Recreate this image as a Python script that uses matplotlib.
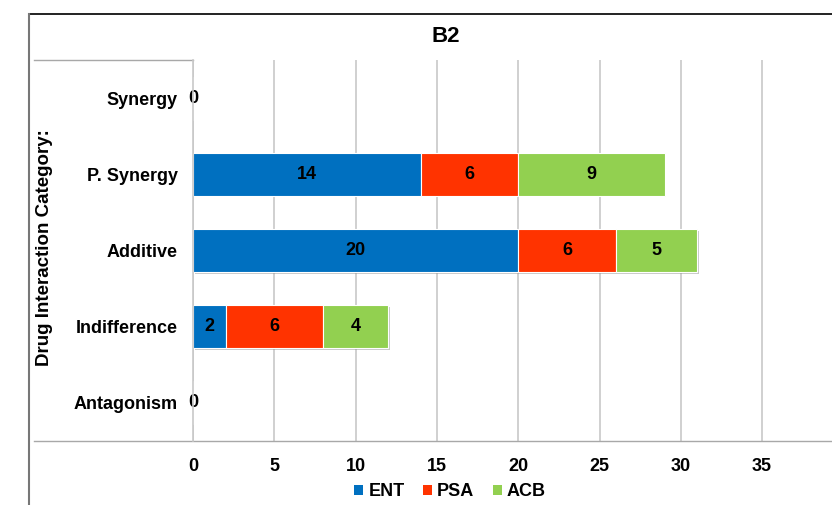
import matplotlib
matplotlib.use("Agg")
import matplotlib.pyplot as plt
import matplotlib.patheffects as pe
from matplotlib.lines import Line2D
from matplotlib.patches import Patch
import numpy as np

plt.rcParams['font.family'] = ['Liberation Sans', 'DejaVu Sans']
plt.rcParams['font.weight'] = 'bold'

# Drug interaction counts per category (bottom to top)
categories = ["Antagonism", "Indifference", "Additive", "P. Synergy", "Synergy"]
ent = [0, 2, 20, 14, 0]
psa = [0, 6, 6, 6, 0]
acb = [0, 4, 5, 9, 0]
series_names = ["ENT", "PSA", "ACB"]
colors = ["#0070C0", "#FF3300", "#92D050"]
x_ticks = [0, 5, 10, 15, 20, 25, 30, 35]

W, H = 832, 505
fig = plt.figure(figsize=(W / 100, H / 100), dpi=100)

ax_left, ax_right = 193, 843.4
ax_top, ax_bottom = 60, 441
ax = fig.add_axes([ax_left / W, 1 - ax_bottom / H,
                   (ax_right - ax_left) / W, (ax_bottom - ax_top) / H])
ax.set_xlim(0, 40)
ax.set_ylim(-0.5, len(categories) - 0.5)

ypos = np.arange(len(categories))
left = np.zeros(len(categories))
shadow = [pe.SimplePatchShadow(offset=(1.2, -1.2), shadow_rgbFace='#888888', alpha=0.45), pe.Normal()]
for name, vals, col in zip(series_names, [ent, psa, acb], colors):
    vals = np.array(vals, dtype=float)
    bars = ax.barh(ypos, vals, left=left, height=0.565, color=col,
                   edgecolor='white', linewidth=0.8, zorder=3, label=name)
    for b in bars:
        if b.get_width() > 0:
            b.set_path_effects(shadow)
    left = left + vals

# value labels at segment centres; zero totals sit on the axis
left = np.zeros(len(categories))
for vals in [ent, psa, acb]:
    for i, v in enumerate(vals):
        if v > 0:
            ax.text(left[i] + v / 2, ypos[i], str(v), ha='center', va='center',
                    fontsize=13, fontweight='bold', zorder=5)
    left = left + np.array(vals)
totals = np.array(ent) + np.array(psa) + np.array(acb)
for i, t in enumerate(totals):
    if t == 0:
        ax.text(0, ypos[i], "0", ha='center', va='center', fontsize=13,
                fontweight='bold', zorder=5)

# gridlines
for xt in x_ticks:
    ax.axvline(xt, color='#C8C8C8', linewidth=1.2, zorder=1)

for s in ax.spines.values():
    s.set_visible(False)
ax.set_xticks(x_ticks)
ax.set_xticklabels([str(t) for t in x_ticks], fontsize=13, fontweight='bold')
ax.set_yticks(ypos)
ax.set_yticklabels(categories, fontsize=13, fontweight='bold')
ax.tick_params(axis='both', length=0)
ax.tick_params(axis='y', pad=11)
ax.tick_params(axis='x', pad=12)

# frame and axis rules in figure pixels
def fline(x0, y0, x1, y1, color, lw):
    fig.add_artist(Line2D([x0 / W, x1 / W], [1 - y0 / H, 1 - y1 / H],
                          color=color, linewidth=lw, transform=fig.transFigure))

fline(29, 14, W, 14, '#111111', 1.3)
fline(29, 14, 29, H, '#777777', 1.5)
fline(34, 60, 193, 60, '#A8A8A8', 1.0)
fline(34, 441, W, 441, '#A8A8A8', 1.0)
fline(193, 60, 193, 441, '#C8C8C8', 1.2)

fig.text(446 / W, 1 - 36 / H, "B2", ha='center', va='center', fontsize=16,
         fontweight='bold')
fig.text(45 / W, 1 - 248 / H, "Drug Interaction Category:", rotation=90,
         ha='center', va='center', fontsize=13.5, fontweight='bold')

handles = [Patch(facecolor=c, edgecolor='none') for c in colors]
fig.legend(handles, series_names, loc='center', bbox_to_anchor=(450 / W, 1 - 492 / H),
           ncol=3, frameon=False, handlelength=0.5, handleheight=0.5,
           handletextpad=0.3, columnspacing=1.0, prop={'weight': 'bold', 'size': 13})

fig.savefig("out.png", dpi=100)
